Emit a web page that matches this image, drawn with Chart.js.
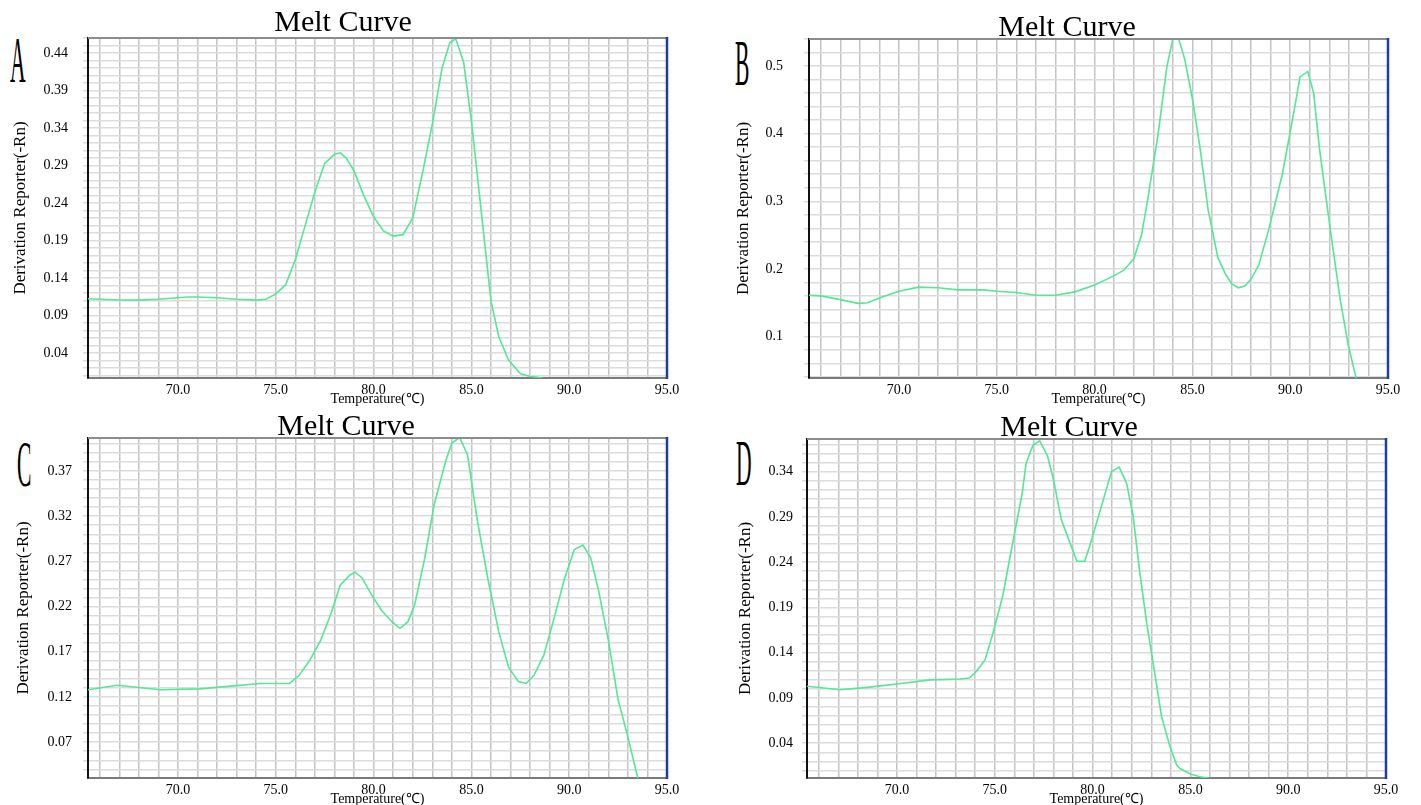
<!DOCTYPE html>
<html lang="en">
<head>
<meta charset="UTF-8">
<title>Melt Curve</title>
<script src="https://cdn.jsdelivr.net/npm/chart.js@4.4.1/dist/chart.umd.min.js"></script>
<style>
    body { margin: 0; background: #fff; overflow: hidden; width: 1421px; height: 805px; position: relative; }
    .panel { position: absolute; }
    .letter {
        position: absolute;
        font-family: "Liberation Serif", serif;
        font-size: 30px;
        line-height: 30px;
        color: #000;
        transform: scale(0.72, 2.17);
        transform-origin: 0 0;
    }
</style>
</head>
<body>
<div class="letter" style="left:10px; top:28px;">A</div>
<div class="letter" style="left:735px; top:31px;">B</div>
<div class="letter" style="left:17px; top:432px;">C</div>
<div class="letter" style="left:736px; top:431px;">D</div>

<div class="panel" style="left:0px; top:0px;"><canvas id="chartA" width="705" height="420"></canvas></div>
<div class="panel" style="left:723px; top:0px;"><canvas id="chartB" width="698" height="420"></canvas></div>
<div class="panel" style="left:0px; top:400px;"><canvas id="chartC" width="705" height="410"></canvas></div>
<div class="panel" style="left:723px; top:400px;"><canvas id="chartD" width="698" height="410"></canvas></div>

<script>
// datos (temperatura, derivada)
const tempsA = [65.4, 66, 67, 68, 69, 70, 70.5, 71, 72, 73, 74, 74.5, 75, 75.5, 76, 76.5, 77, 77.5, 78, 78.3, 78.6, 79, 79.5, 80, 80.5, 81, 81.5, 82, 82.5, 83, 83.5, 83.9, 84.2, 84.6, 85, 85.5, 86, 86.4, 86.9, 87.5, 88, 88.4, 89, 90, 92, 95];
const valuesA = [0.1125, 0.112, 0.111, 0.1107, 0.112, 0.114, 0.115, 0.115, 0.114, 0.112, 0.1107, 0.112, 0.119, 0.131, 0.165, 0.21, 0.255, 0.293, 0.305, 0.307, 0.300, 0.283, 0.25, 0.222, 0.203, 0.196, 0.198, 0.22, 0.28, 0.345, 0.42, 0.454, 0.459, 0.428, 0.35, 0.23, 0.11, 0.062, 0.031, 0.013, 0.009, 0.008, 0.004, 0.002, 0.001, 0.0];

const tempsB = [65.4, 66, 67, 67.9, 68.4, 69.1, 70, 71, 72, 73, 74.3, 75, 76, 77, 78, 79, 80, 81, 81.5, 82, 82.4, 82.7, 83.25, 83.7, 84.0, 84.15, 84.3, 84.6, 85.0, 85.4, 85.8, 86.3, 86.7, 87.0, 87.35, 87.7, 88.0, 88.4, 88.9, 89.6, 90.3, 90.5, 90.9, 91.2, 91.5, 92.05, 92.56, 92.97, 93.4, 93.8, 95];
const valuesB = [0.161, 0.160, 0.1545, 0.149, 0.150, 0.158, 0.167, 0.173, 0.172, 0.169, 0.169, 0.167, 0.165, 0.161, 0.161, 0.166, 0.176, 0.19, 0.198, 0.215, 0.25, 0.3, 0.4, 0.5, 0.54, 0.548, 0.54, 0.511, 0.452, 0.377, 0.288, 0.217, 0.192, 0.178, 0.172, 0.175, 0.185, 0.206, 0.258, 0.34, 0.45, 0.484, 0.492, 0.46, 0.377, 0.258, 0.154, 0.087, 0.035, 0.0, 0.0];

const tempsC = [65.4, 66.9, 69.1, 71.1, 72.7, 74.2, 75.7, 76.2, 76.75, 77.3, 77.8, 78.3, 78.8, 79.05, 79.4, 79.9, 80.4, 80.95, 81.35, 81.75, 82.1, 82.6, 83.1, 83.7, 84.0, 84.4, 84.8, 85.3, 85.85, 86.4, 86.9, 87.4, 87.8, 88.2, 88.7, 89.2, 89.75, 90.26, 90.7, 91.1, 91.5, 92.0, 92.5, 92.95, 93.5, 94, 95];
const valuesC = [0.128, 0.133, 0.128, 0.129, 0.132, 0.135, 0.135, 0.144, 0.161, 0.183, 0.211, 0.244, 0.255, 0.258, 0.252, 0.233, 0.216, 0.203, 0.196, 0.203, 0.222, 0.272, 0.333, 0.382, 0.401, 0.407, 0.388, 0.316, 0.25, 0.192, 0.153, 0.137, 0.135, 0.144, 0.166, 0.205, 0.25, 0.283, 0.288, 0.274, 0.238, 0.183, 0.117, 0.08, 0.031, 0.0, 0.0];

const tempsD = [65.4, 67.1, 68.6, 70.2, 71.7, 73.2, 73.7, 74.0, 74.24, 74.5, 74.9, 75.4, 75.95, 76.4, 76.6, 76.95, 77.3, 77.7, 78.0, 78.4, 78.85, 79.2, 79.6, 79.87, 80.4, 80.97, 81.36, 81.74, 82.08, 82.4, 82.77, 83.1, 83.53, 83.96, 84.3, 84.47, 85.0, 85.5, 86.0, 87, 95];
const valuesD = [0.103, 0.099, 0.102, 0.106, 0.11, 0.111, 0.112, 0.118, 0.1245, 0.132, 0.161, 0.202, 0.265, 0.316, 0.349, 0.369, 0.374, 0.357, 0.331, 0.287, 0.261, 0.241, 0.241, 0.259, 0.298, 0.34, 0.345, 0.327, 0.29, 0.231, 0.172, 0.128, 0.069, 0.036, 0.016, 0.012, 0.006, 0.003, 0.001, -0.003, -0.003];

// etiquetas de los ejes
const xLabelValues = [70, 75, 80, 85, 90, 95];
const yLabelsA = [0.04, 0.09, 0.14, 0.19, 0.24, 0.29, 0.34, 0.39, 0.44];
const yLabelsB = [0.1, 0.2, 0.3, 0.4, 0.5];
const yLabelsC = [0.07, 0.12, 0.17, 0.22, 0.27, 0.32, 0.37];
const yLabelsD = [0.04, 0.09, 0.14, 0.19, 0.24, 0.29, 0.34];

const titleText = 'Melt Curve';
const xTitle = 'Temperature(\u2103)';
const yTitle = 'Derivation Reporter(-Rn)';

const X_MIN = 65.4, X_MAX = 95;
const SERIF = '"Liberation Serif", "Times New Roman", serif';

// lineas de la rejilla: cada grado en X
const xGrid = [];
for (let t = 66; t <= 95; t++) xGrid.push(t);

function gridY(from, to, step) {
    const out = [];
    for (let i = from; i <= to; i += step) out.push(i / 100);
    return out;
}

// marco: borde superior gris y borde derecho azul
const framePlugin = {
    id: 'frame',
    afterDraw(chart) {
        const { ctx, chartArea: a } = chart;
        ctx.save();
        ctx.lineWidth = 2;
        ctx.strokeStyle = '#8c8c8c';
        ctx.beginPath();
        ctx.moveTo(a.left, a.top);
        ctx.lineTo(a.right, a.top);
        ctx.stroke();
        ctx.lineWidth = 2.5;
        ctx.strokeStyle = '#1d3f9e';
        ctx.beginPath();
        ctx.moveTo(a.right, a.top - 1);
        ctx.lineTo(a.right, a.bottom + 1);
        ctx.stroke();
        ctx.restore();
    }
};

function makeChart(id, temps, values, p) {
    const ctx = document.getElementById(id).getContext('2d');
    return new Chart(ctx, {
        type: 'line',
        data: {
            datasets: [{
                data: temps.map((t, i) => ({ x: t, y: values[i] })),
                borderColor: '#52e896',
                borderWidth: 1.6,
                pointRadius: 0,
                tension: 0,
                fill: false
            }]
        },
        options: {
            responsive: false,
            animation: false,
            events: [],
            layout: { padding: { left: p.padL, right: p.padR, top: 0, bottom: p.padB } },
            plugins: {
                legend: { display: false },
                tooltip: { enabled: false },
                title: {
                    display: true,
                    text: titleText,
                    color: '#000',
                    font: { family: SERIF, size: 30, weight: 'normal' },
                    padding: { top: p.titleTop, bottom: p.titleBottom }
                }
            },
            scales: {
                x: {
                    type: 'linear',
                    min: X_MIN,
                    max: X_MAX,
                    afterBuildTicks: (s) => { s.ticks = xGrid.map(v => ({ value: v })); },
                    afterFit: (s) => { s.height = 30; },
                    grid: { color: '#c4c4c4', lineWidth: 1.5, drawTicks: false },
                    border: { color: '#7a7a7a', width: 2 },
                    ticks: {
                        autoSkip: false,
                        maxRotation: 0,
                        padding: 4,
                        color: '#000',
                        font: { family: SERIF, size: 14 },
                        callback: (v) => xLabelValues.includes(v) ? v.toFixed(1) : ''
                    },
                    title: {
                        display: true,
                        text: xTitle,
                        color: '#000',
                        font: { family: SERIF, size: 14 },
                        padding: 0
                    }
                },
                y: {
                    type: 'linear',
                    min: p.yMin,
                    max: p.yMax,
                    afterBuildTicks: (s) => { s.ticks = p.yGrid.map(v => ({ value: v })); },
                    afterFit: (s) => { s.width = p.yWidth; },
                    grid: { color: '#dcdcdc', lineWidth: 1.5, drawTicks: true, tickLength: 5 },
                    border: { color: '#111', width: 2 },
                    ticks: {
                        autoSkip: false,
                        padding: p.tickPad,
                        color: '#000',
                        font: { family: SERIF, size: 14 },
                        callback: (v) => {
                            const hit = p.yLabels.find(l => Math.abs(l - v) < 1e-6);
                            return hit === undefined ? '' : hit.toFixed(p.dec);
                        }
                    },
                    title: {
                        display: true,
                        text: yTitle,
                        color: '#000',
                        font: { family: SERIF, size: 17 },
                        padding: { top: p.yTitlePad, bottom: 0 }
                    }
                }
            }
        },
        plugins: [framePlugin]
    });
}

makeChart('chartA', tempsA, valuesA, {
    padL: 19, padR: 38, padB: 12, yWidth: 69, tickPad: 15, yTitlePad: -8.2,
    titleTop: 5, titleBottom: -3, yMin: 0.007, yMax: 0.46,
    yGrid: gridY(1, 46, 1), yLabels: yLabelsA, dec: 2
});
makeChart('chartB', tempsB, valuesB, {
    padL: 23, padR: 33, padB: 12, yWidth: 63, tickPad: 21, yTitlePad: -12.2,
    titleTop: 10, titleBottom: -7, yMin: 0.0386, yMax: 0.54,
    yGrid: gridY(4, 54, 2), yLabels: yLabelsB, dec: 1
});
makeChart('chartC', tempsC, valuesC, {
    padL: 25, padR: 38, padB: 2, yWidth: 63, tickPad: 11, yTitlePad: -11.2,
    titleTop: 9, titleBottom: -7, yMin: 0.0304, yMax: 0.4065,
    yGrid: gridY(4, 40, 1), yLabels: yLabelsC, dec: 2
});
makeChart('chartD', tempsD, valuesD, {
    padL: 29, padR: 35, padB: 2, yWidth: 55, tickPad: 9, yTitlePad: -16.2,
    titleTop: 10, titleBottom: -7, yMin: 0.0016, yMax: 0.376,
    yGrid: gridY(1, 37, 1), yLabels: yLabelsD, dec: 2
});
</script>
</body>
</html>
